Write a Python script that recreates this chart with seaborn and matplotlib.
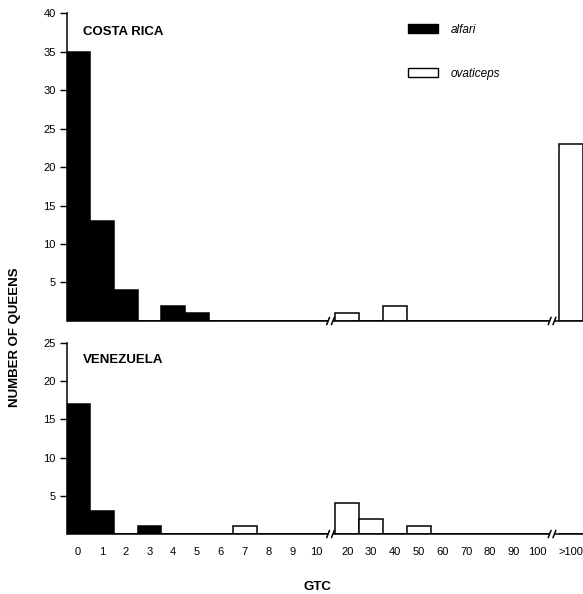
import numpy as np
import pandas as pd
import matplotlib.pyplot as plt
import seaborn as sns
from matplotlib.patches import Patch

# Data (number of queens per GTC class)
gtc_labels = ['0', '1', '2', '3', '4', '5', '6', '7', '8', '9', '10',
              '20', '30', '40', '50', '60', '70', '80', '90', '100', '>100']
cr_alfari = [35, 13, 4, 0, 2, 1, 0, 0, 0, 0, 0,
             0, 0, 0, 0, 0, 0, 0, 0, 0, 0]
cr_ovaticeps = [0, 0, 0, 0, 0, 0, 0, 0, 0, 0, 0,
                1, 0, 2, 0, 0, 0, 0, 0, 0, 23]
ve_alfari = [17, 3, 0, 1, 0, 0, 0, 0, 0, 0, 0,
             0, 0, 0, 0, 0, 0, 0, 0, 0, 0]
ve_ovaticeps = [0, 0, 0, 0, 0, 0, 0, 1, 0, 0, 0,
                4, 2, 0, 1, 0, 0, 0, 0, 0, 0]

sns.set_theme(style='ticks')
plt.rcParams['font.family'] = ['Liberation Sans', 'DejaVu Sans']
plt.rcParams['text.color'] = 'black'

# x positions: one unit per class, with small gaps at the two axis breaks
idx = np.arange(len(gtc_labels))
pos = idx + 0.3 * (idx >= 11) + 0.4 * (idx >= 20)
xlim = (-0.46, 21.2)


def panel_df(alfari, ovaticeps):
    a = pd.DataFrame({'pos': pos, 'count': alfari, 'species': 'alfari'})
    o = pd.DataFrame({'pos': pos, 'count': ovaticeps, 'species': 'ovaticeps'})
    return pd.concat([a, o], ignore_index=True)


fig = plt.figure(figsize=(5.83, 5.94), dpi=100)
ax1 = fig.add_axes([0.115, 0.4596, 0.885, 0.5185])
ax2 = fig.add_axes([0.115, 0.101, 0.885, 0.3216])

panels = [(ax1, panel_df(cr_alfari, cr_ovaticeps), 40),
          (ax2, panel_df(ve_alfari, ve_ovaticeps), 25)]

for ax, df, ymax in panels:
    sns.barplot(data=df, x='pos', y='count', hue='species',
                palette={'alfari': 'black', 'ovaticeps': 'white'},
                native_scale=True, dodge=False, width=1, errorbar=None,
                edgecolor='black', linewidth=1.1, legend=False, ax=ax)
    ax.set_xlim(*xlim)
    ax.set_ylim(0, ymax)
    ax.set_yticks(np.arange(5, ymax + 1, 5))
    ax.tick_params(axis='y', direction='out', length=5, width=1,
                   labelsize=8, pad=3, colors='black')
    ax.set_xlabel('')
    ax.set_ylabel('')
    for s in ['top', 'right', 'bottom']:
        ax.spines[s].set_visible(False)
    ax.spines['left'].set_color('black')
    ax.spines['left'].set_linewidth(1.1)

    # baseline with break marks
    segs = [(xlim[0], 10.5), (10.7, 19.8), (20.0, xlim[1])]
    for a, b in segs:
        ax.plot([a, b], [0, 0], color='black', lw=1.1, clip_on=False,
                solid_capstyle='butt')
    tr = ax.get_xaxis_transform()
    for x in [10.5, 10.7, 19.8, 20.0]:
        ax.plot([x - 0.06, x + 0.06], [-0.012 * 40 / ymax, 0.012 * 40 / ymax],
                color='black', lw=1.1, transform=tr, clip_on=False)

ax1.set_xticks([])
ax2.set_xticks(pos, gtc_labels)
ax2.tick_params(axis='x', length=0, labelsize=8, pad=9, colors='black')

fig.text(83 / 583, 1 - 32 / 594, 'COSTA RICA', fontsize=9.5,
         fontweight='bold', ha='left', va='center')
fig.text(83 / 583, 1 - 360 / 594, 'VENEZUELA', fontsize=9.5,
         fontweight='bold', ha='left', va='center')
fig.text(15 / 583, 1 - 337 / 594, 'NUMBER OF QUEENS', fontsize=9.5,
         fontweight='bold', rotation=90, ha='center', va='center')
fig.text(317 / 583, 1 - 587 / 594, 'GTC', fontsize=9.5,
         fontweight='bold', ha='center', va='center')

handles = [Patch(facecolor='black', edgecolor='black', lw=1),
           Patch(facecolor='white', edgecolor='black', lw=1)]
leg = fig.legend(handles, ['alfari', 'ovaticeps'], loc='upper left',
                 bbox_to_anchor=(408 / 583, 1 - 24 / 594), frameon=False,
                 fontsize=8.5, handlelength=2.5, handleheight=0.8,
                 handletextpad=1.1, labelspacing=2.7, borderpad=0,
                 borderaxespad=0)
for t in leg.get_texts():
    t.set_fontstyle('italic')
    t.set_color('black')

plt.savefig('out.png', dpi=100)
